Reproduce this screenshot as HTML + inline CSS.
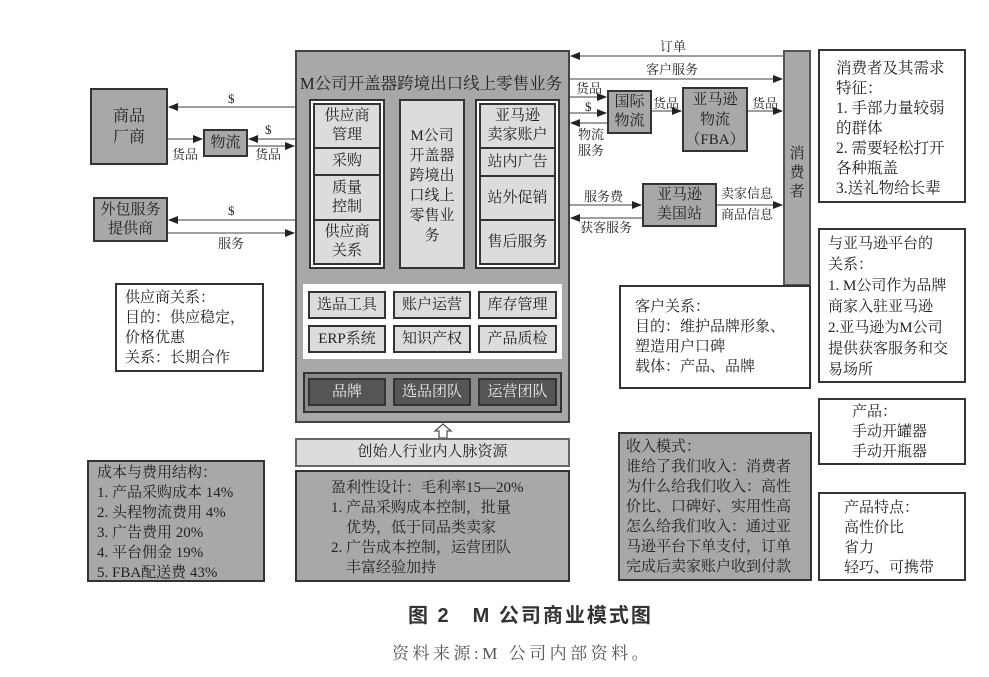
<!DOCTYPE html>
<html><head><meta charset="utf-8"><style>
body{margin:0;width:989px;height:677px;background:#fff;position:relative;overflow:hidden;font-family:"Liberation Serif","Noto Serif CJK SC",serif;color:#222}
.b{position:absolute;box-sizing:border-box;border:2px solid #333;display:flex;align-items:center;justify-content:center;text-align:center;font-size:15px;line-height:19px}
.g{background:#a8a8a8}.l{background:#dcdcdc}.w{background:#fff}.d{background:#555;color:#eee}
.t{position:absolute;font-size:13px;line-height:14px;white-space:nowrap}
.n{position:absolute;box-sizing:border-box;border:2px solid #333;font-size:15px;line-height:20px;padding:4px 8px;white-space:nowrap}
</style></head><body>
<svg width="989" height="677" style="position:absolute;left:0;top:0">
<defs><marker id="a" markerWidth="10" markerHeight="8" refX="9" refY="4" orient="auto" markerUnits="userSpaceOnUse"><path d="M0,0L10,4L0,8z" fill="#222"/></marker></defs>
<g stroke="#666" stroke-width="1.3" marker-end="url(#a)">
<line x1="295" y1="107" x2="169" y2="107"/>
<line x1="168" y1="139" x2="202" y2="139"/>
<line x1="295" y1="139" x2="249" y2="139"/>
<line x1="248" y1="146" x2="294" y2="146"/>
<line x1="295" y1="220" x2="169" y2="220"/>
<line x1="168" y1="233" x2="294" y2="233"/>
<line x1="783" y1="56" x2="571" y2="56"/>
<line x1="570" y1="79" x2="782" y2="79"/>
<line x1="570" y1="97" x2="606" y2="97"/>
<line x1="570" y1="113" x2="606" y2="113"/>
<line x1="607" y1="123" x2="571" y2="123"/>
<line x1="652" y1="111" x2="681" y2="111"/>
<line x1="748" y1="111" x2="782" y2="111"/>
<line x1="570" y1="205" x2="641" y2="205"/>
<line x1="642" y1="218" x2="571" y2="218"/>
<line x1="717" y1="205" x2="782" y2="205"/>
</g>
<path d="M443,424 L451,431 L447,431 L447,438 L439,438 L439,431 L435,431 Z" fill="#fff" stroke="#555" stroke-width="1.3"/>
</svg>
<div class="t" style="left:228px;top:92px">$</div>
<div class="t" style="left:265px;top:123px">$</div>
<div class="t" style="left:172px;top:148px">货品</div>
<div class="t" style="left:255px;top:148px">货品</div>
<div class="t" style="left:228px;top:204px">$</div>
<div class="t" style="left:218px;top:237px">服务</div>
<div class="t" style="left:660px;top:40px">订单</div>
<div class="t" style="left:646px;top:63px">客户服务</div>
<div class="t" style="left:576px;top:82px">货品</div>
<div class="t" style="left:585px;top:100px">$</div>
<div class="t" style="left:578px;top:127px;line-height:16px">物流<br>服务</div>
<div class="t" style="left:653px;top:97px">货品</div>
<div class="t" style="left:752px;top:97px">货品</div>
<div class="t" style="left:584px;top:190px">服务费</div>
<div class="t" style="left:580px;top:221px">获客服务</div>
<div class="t" style="left:721px;top:187px">卖家信息</div>
<div class="t" style="left:721px;top:208px">商品信息</div>

<div class="b g" style="left:90px;top:88px;width:78px;height:77px;line-height:21px;font-size:16px">商品<br>厂商</div>
<div class="b g" style="left:203px;top:129px;width:45px;height:28px">物流</div>
<div class="b g" style="left:93px;top:197px;width:75px;height:45px">外包服务<br>提供商</div>
<div class="n w" style="left:115px;top:283px;width:149px;height:89px;padding:3px 8px">供应商关系：<br>目的：供应稳定，<br>价格优惠<br>关系：长期合作</div>
<div class="n g" style="left:87px;top:460px;width:178px;height:122px;padding:1px 8px">成本与费用结构：<br>1. 产品采购成本 14%<br>2. 头程物流费用 4%<br>3. 广告费用 20%<br>4. 平台佣金 19%<br>5. FBA配送费 43%</div>

<div class="b g" style="left:295px;top:50px;width:275px;height:373px;border-color:#444"></div>
<div class="t" style="left:300px;top:75px;font-size:16.5px;line-height:18px">M公司开盖器跨境出口线上零售业务</div>
<div class="b w" style="left:309px;top:99px;width:76px;height:170px;border-width:2px"></div>
<div class="b l" style="left:313px;top:103px;width:68px;height:46px">供应商<br>管理</div>
<div class="b l" style="left:313px;top:147px;width:68px;height:29px">采购</div>
<div class="b l" style="left:313px;top:174px;width:68px;height:47px">质量<br>控制</div>
<div class="b l" style="left:313px;top:219px;width:68px;height:46px">供应商<br>关系</div>
<div class="b l" style="left:399px;top:99px;width:66px;height:170px;align-items:flex-start;padding-top:25px;line-height:20px">M公司<br>开盖器<br>跨境出<br>口线上<br>零售业<br>务</div>
<div class="b w" style="left:475px;top:99px;width:85px;height:170px"></div>
<div class="b l" style="left:479px;top:103px;width:77px;height:46px">亚马逊<br>卖家账户</div>
<div class="b l" style="left:479px;top:147px;width:77px;height:30px">站内广告</div>
<div class="b l" style="left:479px;top:175px;width:77px;height:46px">站外促销</div>
<div class="b l" style="left:479px;top:219px;width:77px;height:46px">售后服务</div>

<div class="b w" style="left:303px;top:284px;width:259px;height:75px;border:none"></div>
<div class="b l" style="left:308px;top:291px;width:78px;height:28px">选品工具</div>
<div class="b l" style="left:393px;top:291px;width:78px;height:28px">账户运营</div>
<div class="b l" style="left:478px;top:291px;width:79px;height:28px">库存管理</div>
<div class="b l" style="left:308px;top:325px;width:78px;height:28px">ERP系统</div>
<div class="b l" style="left:393px;top:325px;width:78px;height:28px">知识产权</div>
<div class="b l" style="left:478px;top:325px;width:79px;height:28px">产品质检</div>
<div class="b" style="left:303px;top:372px;width:259px;height:41px;background:#8a8a8a"></div>
<div class="b d" style="left:308px;top:378px;width:78px;height:28px">品牌</div>
<div class="b d" style="left:393px;top:378px;width:78px;height:28px">选品团队</div>
<div class="b d" style="left:478px;top:378px;width:79px;height:28px">运营团队</div>

<div class="b l" style="left:295px;top:438px;width:275px;height:29px;border-color:#666">创始人行业内人脉资源</div>
<div class="n g" style="left:295px;top:470px;width:275px;height:112px;padding:6px 0 0 34px">盈利性设计：毛利率15—20%<br>1. 产品采购成本控制，批量<br>&nbsp;&nbsp;&nbsp;&nbsp;优势，低于同品类卖家<br>2. 广告成本控制，运营团队<br>&nbsp;&nbsp;&nbsp;&nbsp;丰富经验加持</div>

<div class="b g" style="left:783px;top:50px;width:28px;height:236px;border-color:#555;line-height:19px;padding-top:10px">消<br>费<br>者</div>
<div class="b g" style="left:607px;top:90px;width:45px;height:44px">国际<br>物流</div>
<div class="b g" style="left:682px;top:87px;width:66px;height:65px;line-height:20px">亚马逊<br>物流<br>（FBA）</div>
<div class="b g" style="left:642px;top:183px;width:75px;height:44px">亚马逊<br>美国站</div>

<div class="n w" style="left:818px;top:49px;width:148px;height:154px;padding:8px 16px;line-height:20px;font-size:15.5px">消费者及其需求<br>特征：<br>1. 手部力量较弱<br>的群体<br>2. 需要轻松打开<br>各种瓶盖<br>3.送礼物给长辈</div>
<div class="n w" style="left:818px;top:228px;width:148px;height:155px;padding:4px 8px;line-height:21px">与亚马逊平台的<br>关系：<br>1. M公司作为品牌<br>商家入驻亚马逊<br>2.亚马逊为M公司<br>提供获客服务和交<br>易场所</div>
<div class="n w" style="left:619px;top:285px;width:192px;height:104px;padding:10px 14px">客户关系：<br>目的：维护品牌形象、<br>塑造用户口碑<br>载体：产品、品牌</div>
<div class="n w" style="left:818px;top:398px;width:148px;height:67px;padding:2px 0 0 32px">产品：<br>手动开罐器<br>手动开瓶器</div>
<div class="n w" style="left:818px;top:492px;width:148px;height:89px;padding:4px 0 0 24px">产品特点：<br>高性价比<br>省力<br>轻巧、可携带</div>
<div class="n g" style="left:618px;top:432px;width:194px;height:149px;padding:3px 6px">收入模式：<br>谁给了我们收入：消费者<br>为什么给我们收入：高性<br>价比、口碑好、实用性高<br>怎么给我们收入：通过亚<br>马逊平台下单支付，订单<br>完成后卖家账户收到付款</div>

<div class="t" style="left:408px;top:604px;font-size:20px;line-height:24px;font-weight:bold;letter-spacing:2px;font-family:'Liberation Sans','Noto Sans CJK SC',sans-serif;color:#333">图 2　M 公司商业模式图</div>
<div class="t" style="left:392px;top:643px;font-size:17px;line-height:22px;letter-spacing:3.5px;color:#555">资料来源:M 公司内部资料。</div>
</body></html>
